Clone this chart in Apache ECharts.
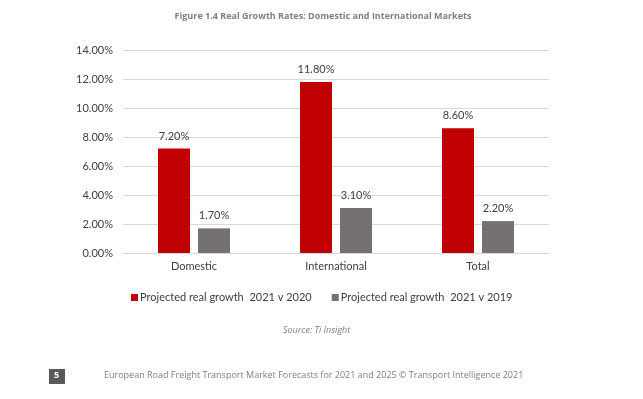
<!DOCTYPE html>
<html>
<head>
<meta charset="utf-8">
<script src="https://cdn.jsdelivr.net/npm/echarts@6/dist/echarts.min.js"></script>
<style>
  html, body { margin: 0; padding: 0; background: #ffffff; }
  #chart { width: 643px; height: 399px; }
</style>
</head>
<body>
<div id="chart"></div>
<script>
const categories = ['Domestic', 'International', 'Total']
const growth2020 = [7.2, 11.8, 8.6]
const growth2019 = [1.7, 3.1, 2.2]
const seriesNames = ['Projected real growth  2021 v 2020', 'Projected real growth  2021 v 2019']

const red = '#c00000'
const grey = '#767171'
const textColor = '#404040'
const font = 'Lato, "Open Sans", sans-serif'

const chart = echarts.init(document.getElementById('chart'))

function barLabel() {
  return {
    show: true,
    position: 'top',
    distance: 7,
    color: textColor,
    fontFamily: font,
    fontSize: 11,
    formatter: (p) => p.value.toFixed(2) + '%'
  }
}

chart.setOption({
  animation: false,
  title: {
    text: 'Figure 1.4 Real Growth Rates: Domestic and International Markets',
    left: 318,
    textAlign: 'center',
    top: 7,
    textStyle: { color: '#7f7f7f', fontFamily: '"Open Sans", sans-serif', fontWeight: 'bold', fontSize: 9 }
  },
  legend: {
    left: 126,
    top: 287,
    itemWidth: 7,
    itemHeight: 7,
    itemGap: 20,
    icon: 'rect',
    data: seriesNames,
    textStyle: { color: textColor, fontFamily: font, fontSize: 11, padding: [0, 0, 0, -3] }
  },
  grid: { left: 123, right: 94, top: 50, bottom: 146 },
  xAxis: {
    type: 'category',
    data: categories,
    axisLine: { lineStyle: { color: '#d9d9d9' } },
    axisTick: { show: false },
    axisLabel: { color: textColor, fontFamily: font, fontSize: 11, margin: 8 }
  },
  yAxis: {
    type: 'value',
    min: 0,
    max: 14,
    interval: 2,
    axisLine: { show: false },
    axisTick: { show: false },
    splitLine: { lineStyle: { color: '#d9d9d9' } },
    axisLabel: {
      color: textColor,
      fontFamily: font,
      fontSize: 11,
      margin: 10,
      formatter: (v) => v.toFixed(2) + '%'
    }
  },
  series: [
    {
      name: seriesNames[0],
      type: 'bar',
      data: growth2020,
      barWidth: 32,
      barGap: '25%',
      itemStyle: { color: red },
      label: barLabel()
    },
    {
      name: seriesNames[1],
      type: 'bar',
      data: growth2019,
      barWidth: 32,
      itemStyle: { color: grey },
      label: barLabel()
    }
  ],
  graphic: [
    {
      type: 'text',
      left: 283,
      top: 326,
      style: { text: 'Source: Ti Insight', fill: '#7f7f7f', font: 'italic 9px "Open Sans", sans-serif' }
    },
    {
      type: 'rect',
      left: 49,
      top: 369,
      shape: { width: 16, height: 15 },
      style: { fill: '#595959' }
    },
    {
      type: 'text',
      left: 54,
      top: 371,
      style: { text: '5', fill: '#ffffff', font: 'bold 9px "Open Sans", sans-serif' }
    },
    {
      type: 'text',
      left: 104,
      top: 371,
      style: {
        text: 'European Road Freight Transport Market Forecasts for 2021 and 2025 \u00a9 Transport Intelligence 2021',
        fill: '#7f7f7f',
        font: '9px "Open Sans", sans-serif'
      }
    }
  ]
})
</script>
</body>
</html>
